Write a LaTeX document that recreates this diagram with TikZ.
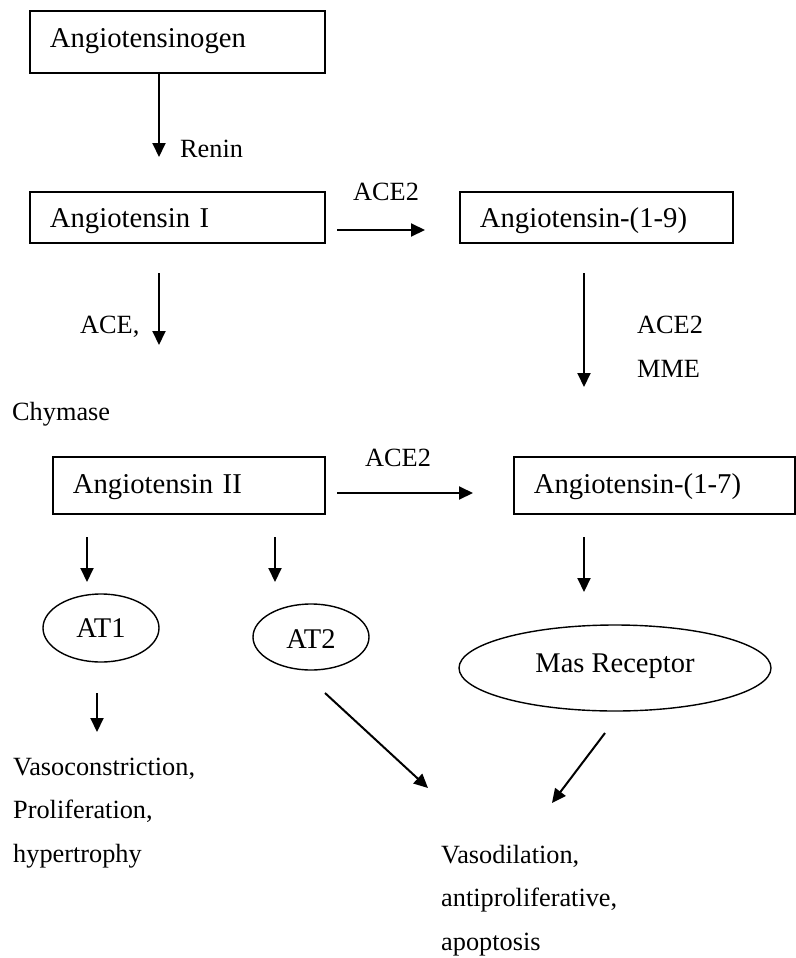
\documentclass[tikz,border=0pt]{standalone}
\usepackage{fontspec}
\setmainfont{Liberation Serif}
\usetikzlibrary{arrows.meta,shapes.geometric}
\tikzset{
  boxnode/.style={draw, line width=1.7pt, anchor=north west, align=left, inner xsep=20pt, inner ysep=0pt,
     font=\fontsize{28.7}{34}\selectfont},
  ellnode/.style={draw, ellipse, line width=1.4pt, inner sep=0pt, font=\fontsize{28.5}{34}\selectfont},
  lbl/.style={anchor=base west, inner sep=0pt, font=\fontsize{26.3}{32}\selectfont},
  outcome/.style={anchor=north west, inner sep=0pt, align=left, font=\fontsize{26.3}{43.7}\selectfont},
  arr/.style={line width=2pt, -{Triangle[length=14pt,width=13pt]}}
}
\begin{document}
\begin{tikzpicture}[x=1pt,y=-1pt]
\useasboundingbox (0,0) rectangle (795,958);
% boxes
\node[boxnode, text width=255pt, minimum height=62pt, text height=20pt, text depth=8pt] (ago) at (29,10) {Angiotensinogen};
\node[boxnode, text width=255pt, minimum height=51pt, text height=24pt, text depth=3pt] (ang1) at (29,191) {Angiotensin I};
\node[boxnode, text width=233pt, minimum height=51pt, text height=24pt, text depth=3pt] (ang19) at (459,191) {Angiotensin-(1-9)};
\node[boxnode, text width=232pt, minimum height=57pt, text height=22pt, text depth=5pt] (ang2) at (52,456) {Angiotensin II};
\node[boxnode, text width=241pt, minimum height=57pt, text height=22pt, text depth=5pt] (ang17) at (513,456) {Angiotensin-(1-7)};
% ellipses
\node[ellnode, minimum width=116pt, minimum height=68pt, text height=18pt, text depth=0pt] (at1) at (101,628) {AT1};
\node[ellnode, minimum width=116pt, minimum height=66pt, text height=22pt, text depth=0pt] (at2) at (311,637) {AT2};
\node[ellnode, minimum width=312pt, minimum height=86pt, text height=14pt, text depth=6pt] (mas) at (615,668) {Mas Receptor};
% labels
\node[lbl] (renin) at (180,157) {Renin};
\node[lbl] (ace2a) at (353,200) {ACE2};
\node[lbl] (ace) at (80,333) {ACE,};
\node[lbl] (chym) at (12,420) {Chymase};
\node[lbl] (ace2b) at (637,333) {ACE2};
\node[lbl] (mme) at (637,377) {MME};
\node[lbl] (ace2c) at (365,466) {ACE2};
\node[outcome] (vc) at (13,757.6) {Vasoconstriction,\\Proliferation,\\hypertrophy};
\node[outcome] (vd) at (441,844.6) {Vasodilation,\\antiproliferative,\\apoptosis};
% arrow coordinates
\coordinate (a1s) at (159,72);   \coordinate (a1e) at (159,157);
\coordinate (a2s) at (337,230);  \coordinate (a2e) at (425,230);
\coordinate (a3s) at (159,273);  \coordinate (a3e) at (159,345);
\coordinate (a4s) at (584,273);  \coordinate (a4e) at (584,387);
\coordinate (a5s) at (337,493);  \coordinate (a5e) at (473,493);
\coordinate (a6s) at (87,537);   \coordinate (a6e) at (87,582);
\coordinate (a7s) at (275,537);  \coordinate (a7e) at (275,582);
\coordinate (a8s) at (584,537);  \coordinate (a8e) at (584,592);
\coordinate (a9s) at (97,693);   \coordinate (a9e) at (97,732);
\coordinate (a10s) at (325,693); \coordinate (a10e) at (428,788);
\coordinate (a11s) at (605,733); \coordinate (a11e) at (552,803);
\draw[arr] (a1s) -- (a1e);
\draw[arr] (a2s) -- (a2e);
\draw[arr] (a3s) -- (a3e);
\draw[arr] (a4s) -- (a4e);
\draw[arr] (a5s) -- (a5e);
\draw[arr] (a6s) -- (a6e);
\draw[arr] (a7s) -- (a7e);
\draw[arr] (a8s) -- (a8e);
\draw[arr] (a9s) -- (a9e);
\draw[arr] (a10s) -- (a10e);
\draw[arr] (a11s) -- (a11e);
\end{tikzpicture}
\end{document}
